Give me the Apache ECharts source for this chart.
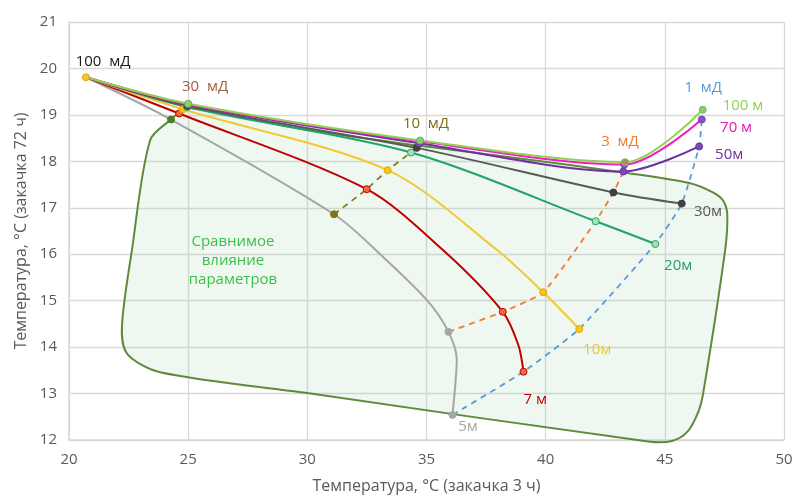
<!DOCTYPE html>
<html><head><meta charset="utf-8">
<script src="https://cdn.jsdelivr.net/npm/echarts@6/dist/echarts.min.js"></script>
<style>html,body{margin:0;padding:0;background:#fff}#c{width:795px;height:497px}</style>
</head><body><div id="c"></div>
<script>
// permeability levels (marked points along each curve)
const permeabilities = ['100 мД', '30 мД', '10 мД', '3 мД', '1 мД'];
// well spacing series: [T(3h), T(72h)]
const spacingNames = ['5м', '7 м', '10м', '20м', '30м', '50м', '70 м', '100 м'];
const s5   = [[20.71,19.81],[24.28,18.90],[31.12,16.86],[33.18,15.94],[35.02,15.01],[35.92,14.33],[36.27,13.72],[36.20,13.14],[36.09,12.54]];
const s5Marks = [0,1,2,5,8];
const s7   = [[20.71,19.81],[24.62,19.03],[32.49,17.40],[35.69,16.09],[38.20,14.76],[38.85,14.05],[39.07,13.47]];
const s7Marks = [0,1,2,4,6];
const s10  = [[20.71,19.81],[24.78,19.12],[33.37,17.81],[37.96,16.09],[39.90,15.18],[41.41,14.39]];
const s10Marks = [0,1,2,4,5];
const s20  = [[20.71,19.81],[24.95,19.17],[34.35,18.19],[42.10,16.71],[44.60,16.22]];
const s30  = [[20.71,19.81],[24.97,19.19],[34.59,18.29],[42.84,17.33],[45.71,17.09]];
const s50  = [[20.71,19.81],[25.00,19.22],[34.70,18.39],[43.26,17.78],[46.44,18.32]];
const s70  = [[20.71,19.81],[25.00,19.23],[34.73,18.43],[43.30,17.93],[46.55,18.90]];
const s100 = [[20.71,19.81],[25.00,19.24],[34.73,18.45],[43.33,17.98],[46.59,19.11]];
const plainMarks = [0,1,2,3,4];
const spacingData = [s5, s7, s10, s20, s30, s50, s70, s100];
const spacingMarks = [s5Marks, s7Marks, s10Marks, plainMarks, plainMarks, plainMarks, plainMarks, plainMarks];

// region of comparable influence (outline vertices)
const regionOutline = [[24.28,18.90],[23.40,18.45],[22.64,16.09],[22.22,14.43],[22.45,13.85],[23.82,13.46],[29.99,13.01],[44.30,11.97],[45.30,11.98],[45.95,12.18],[46.40,12.60],[46.61,13.01],[47.53,16.09],[47.62,16.85],[47.45,17.15],[47.02,17.33],[46.06,17.53],[43.25,17.76],[38.93,18.06],[34.65,18.34],[29.69,18.70],[25.00,19.15]];

const xTicks = [20,25,30,35,40,45,50];
const yTicks = [12,13,14,15,16,17,18,19,20,21];

// text annotations
const annotations = [
  [21.43,20.15,'100  мД','#1a1a1a'],
  [25.71,19.61,'30  мД','#a0603a'],
  [34.98,18.80,'10  мД','#7f6a18'],
  [43.12,18.43,'3  мД','#ed7d31'],
  [46.61,19.59,'1  мД','#5b9bd5'],
  [48.28,19.20,'100 м','#92d050'],
  [47.99,18.73,'70 м','#e619b4'],
  [47.70,18.15,'50м','#7030a0'],
  [46.81,16.92,'30м','#595959'],
  [45.56,15.76,'20м','#21a366'],
  [42.16,13.94,'10м','#f2c530'],
  [39.56,12.86,'7 м','#c00000'],
  [36.74,12.28,'5м','#a6a6a6'],
  [26.88,15.87,'Сравнимое\nвлияние\nпараметров','#3cbf4a']
];

const lineColors = ['#a6a6a6','#c00000','#f2c934','#21a366','#595959','#7030a0','#f01ec0','#92d050'];
const markColors = [
  ['#4f7a28','#4f7a28','#7f7010','#a6a6a6','#a6a6a6'],
  ['#f46a3c','#f46a3c','#f46a3c','#f46a3c','#f46a3c'],
  ['#f5c142','#f5c518','#f5c518','#f5c518','#f5c518'],
  ['#a8e0b0','#a8e0b0','#a8e0b0','#a8e0b0','#a8e0b0'],
  ['#404040','#404040','#404040','#404040','#404040'],
  ['#7b4bb3','#7b4bb3','#7b4bb3','#7b4bb3','#7b4bb3'],
  ['#8a4fd0','#8a4fd0','#8a4fd0','#8a4fd0','#8a4fd0'],
  ['#8fca6f','#8fca6f','#8fca6f','#b08d5a','#8fca6f']
];
const markBorders = ['#8a8a8a','#c00000','#e0a800','#21a366','#404040','#7030a0','#7a3fc0','#7bb85a'];

const chart = echarts.init(document.getElementById('c'), null, {renderer:'canvas'});
const series = [];

series.push({
  type:'custom', z:1, silent:true,
  data:[[0,0]],
  renderItem:(params, api) => {
    const pts = regionOutline.map(p => api.coord(p));
    return {type:'polygon', shape:{points:pts, smooth:0.3},
      style:{fill:'rgba(120,200,140,0.13)', stroke:'#5f8a3c', lineWidth:2}};
  }
});

// iso-permeability dashed lines
const isoDefs = [
  {k:2, color:'#8a7d20', upto:8},
  {k:3, color:'#ed7d31', upto:8},
  {k:4, color:'#5b9bd5', upto:7}
];
isoDefs.forEach(d => {
  series.push({
    type:'line', name:permeabilities[d.k], z:3, smooth:0.15, symbol:'none',
    data: spacingData.slice(0, d.upto).map((s, i) => s[spacingMarks[i][d.k]]),
    lineStyle:{color:d.color, width:1.8, type:[6,5]}
  });
});

spacingData.forEach((s, i) => {
  const marks = spacingMarks[i];
  series.push({
    type:'line', name:spacingNames[i], z:4, smooth:0.3,
    symbol:'circle', symbolSize:7, showSymbol:true,
    data: s.map((p, j) => {
      const k = marks.indexOf(j);
      if (k < 0 || (k === 0 && i !== 2)) return {value:p, symbol:'none'};
      return {value:p, symbol:'circle',
        itemStyle:{color:markColors[i][k], borderColor:(i===0 ? markColors[i][k] : markBorders[i]), borderWidth:1}};
    }),
    lineStyle:{color:lineColors[i], width:2},
    itemStyle:{color:lineColors[i]}
  });
});

series.push({
  type:'custom', z:6, silent:true,
  data: annotations.map((a, i) => [a[0], a[1], i]),
  renderItem:(params, api) => {
    const a = annotations[api.value(2)];
    const p = api.coord([api.value(0), api.value(1)]);
    return {type:'text', x:p[0], y:p[1],
      style:{text:a[2], fill:a[3], font:'15px "Open Sans", sans-serif', align:'center', verticalAlign:'middle', lineHeight:19}};
  }
});

chart.setOption({
  animation:false,
  backgroundColor:'#ffffff',
  grid:{left:69, right:11, top:22, bottom:57, containLabel:false, outerBoundsMode:'none'},
  xAxis:{type:'value', min:xTicks[0], max:xTicks[xTicks.length-1], interval:5,
    name:'Температура, °C (закачка 3 ч)', nameLocation:'middle', nameGap:38,
    nameTextStyle:{color:'#595959', fontSize:16, fontFamily:'Open Sans'},
    axisLine:{show:true, lineStyle:{color:'#d9d9d9', width:1.5}}, axisTick:{show:false},
    axisLabel:{color:'#595959', fontSize:15, fontFamily:'Open Sans', margin:12},
    splitLine:{show:true, lineStyle:{color:'#d9d9d9', width:1.3}}},
  yAxis:{type:'value', min:yTicks[0], max:yTicks[yTicks.length-1], interval:1,
    name:'Температура, °C (закачка 72 ч)', nameLocation:'middle', nameGap:40,
    nameTextStyle:{color:'#595959', fontSize:16, fontFamily:'Open Sans'},
    axisLine:{show:true, lineStyle:{color:'#d9d9d9', width:1.5}}, axisTick:{show:false},
    axisLabel:{color:'#595959', fontSize:15, fontFamily:'Open Sans', margin:12},
    splitLine:{show:true, lineStyle:{color:'#d9d9d9', width:1.3}}},
  series: series
});
</script></body></html>
